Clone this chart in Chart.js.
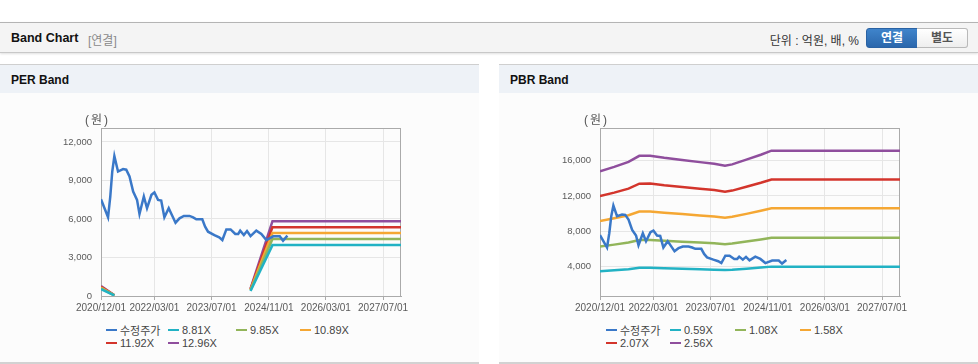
<!DOCTYPE html>
<html>
<head>
<meta charset="utf-8">
<script src="https://cdn.jsdelivr.net/npm/chart.js@4.4.1/dist/chart.umd.min.js"></script>
<style>
body{margin:0;width:978px;height:364px;overflow:hidden;background:#fff;position:relative;
  font-family:"Liberation Sans","Noto Sans CJK KR",sans-serif;color:#222}
.hdr{position:absolute;left:0;top:22px;width:978px;height:29px;background:#f4f4f4;
  border-top:1px solid #b4b4b4;border-bottom:1px solid #c8c8c8;box-shadow:0 1px 2px rgba(0,0,0,.12)}
.hdr .ttl{position:absolute;left:11px;top:8px;font-size:12.5px;font-weight:bold;color:#111}
.hdr .sub{position:absolute;left:88px;top:8px;font-size:12px;color:#8a8a8a}
.hdr .unit{position:absolute;right:119px;top:8px;font-size:12px;color:#333}
.btn{position:absolute;top:5px;height:18px;line-height:18px;text-align:center;font-size:12px;font-weight:bold}
.b1{left:866px;width:50px;background:linear-gradient(#3f84cb,#2b67ac);color:#fff;border:1px solid #2a62a3;border-radius:3px 0 0 3px}
.b2{left:917px;width:50px;background:linear-gradient(#fff,#eee);color:#555;border:1px solid #b9b9b9;border-left:none;border-radius:0 3px 3px 0}
.panel{position:absolute;top:64px;width:479px;height:297px;background:#fcfcfc;border-top:1px solid #cfcfcf;border-bottom:2px solid #d2d2d2}
.panel .ph{height:28px;background:#eef2f7;position:relative}
.panel .ph span{position:absolute;left:11px;top:8px;font-size:12px;font-weight:bold;color:#111}
canvas{position:absolute;top:93px}
.unitlbl{position:absolute;top:110px;font-size:12px;color:#555;letter-spacing:2px}
.legend{position:absolute;top:323px;display:grid;font-size:11px;color:#444;row-gap:0}
.legend div{display:flex;align-items:center;height:13.5px;white-space:nowrap}
.legend i{display:inline-block;width:11px;height:2px;margin-right:3px}
</style>
</head>
<body>
<div class="hdr">
  <span class="ttl">Band Chart</span><span class="sub">[연결]</span>
  <span class="unit">단위 : 억원, 배, %</span>
  <span class="btn b1">연결</span><span class="btn b2">별도</span>
</div>
<div class="panel" style="left:0"><div class="ph"><span>PER Band</span></div></div>
<div class="panel" style="left:499px"><div class="ph"><span>PBR Band</span></div></div>

<canvas id="per" width="479" height="227" style="left:0"></canvas>
<canvas id="pbr" width="479" height="227" style="left:499px"></canvas>
<span class="unitlbl" style="left:85px">(원)</span>
<span class="unitlbl" style="left:584px">(원)</span>
<div class="legend" id="perLegend" style="left:106px;grid-template-columns:62px 68px 64px auto"></div>
<div class="legend" id="pbrLegend" style="left:606px;grid-template-columns:64px 65px 65px auto"></div>

<script>
// x axis
const xStart = '2020/12/01';
const xEnd = '2027/12/01';
const xTickLabels = ['2020/12/01', '2022/03/01', '2023/07/01', '2024/11/01', '2026/03/01', '2027/07/01'];

// 수정주가
const priceDates = ['2020/12/01','2021/01/30','2021/02/18','2021/03/07','2021/03/25','2021/04/25','2021/06/07','2021/07/04',
  '2021/08/01','2021/09/01','2021/10/04','2021/10/25','2021/12/01','2021/12/28','2022/02/04','2022/03/01','2022/04/01',
  '2022/04/28','2022/05/25','2022/07/01','2022/07/28','2022/08/28','2022/10/01','2022/11/07','2022/12/25','2023/01/25',
  '2023/02/21','2023/04/13','2023/05/07','2023/06/01','2023/07/25','2023/09/04','2023/10/01','2023/11/04','2023/12/10',
  '2024/01/19','2024/02/13','2024/03/01','2024/04/01','2024/04/28','2024/05/28','2024/07/16','2024/08/28','2024/10/10',
  '2024/12/07','2025/02/01','2025/03/01','2025/04/07'];
const price = [7540, 6130, 7750, 9700, 10900, 9700, 9890, 9840,
  9310, 8140, 7490, 6390, 7750, 6840, 7880, 8060, 7490,
  7440, 6130, 6840, 6310, 5710, 6050, 6240, 6240, 6130,
  5980, 5980, 5400, 5010, 4750, 4570, 4360, 5190, 5190,
  4830, 4830, 5090, 4750, 5060, 4670, 5090, 4830, 4360,
  4650, 4650, 4300, 4700];

// PER band
const perDates = ['2020/12/01', '2021/03/25', '2021/04/20', '2024/05/28', '2024/12/01', '2027/12/01'];
const per881 = [529, 44, null, 396, 3965, 3965];
const per985 = [591, 49, null, 443, 4433, 4433];
const per1089 = [653, 54, null, 490, 4901, 4901];
const per1192 = [715, 60, null, 536, 5364, 5364];
const per1296 = [778, 65, null, 583, 5832, 5832];
const perTicks = [0, 3000, 6000, 9000, 12000];

// PBR band
const pbrDates = ['2020/12/01','2021/04/01','2021/08/01','2021/11/01','2022/02/01','2022/06/01','2022/11/01','2023/04/01',
  '2023/08/01','2023/11/01','2024/01/01','2024/05/01','2024/09/01','2024/12/01','2027/12/01'];
const pbr059 = [3413, 3528, 3658, 3817, 3820, 3764, 3708, 3652, 3611, 3558, 3593, 3717, 3847, 3953, 3953];
const pbr108 = [6247, 6458, 6696, 6988, 6993, 6890, 6788, 6685, 6610, 6512, 6577, 6804, 7042, 7236, 7236];
const pbr158 = [9139, 9448, 9796, 10223, 10231, 10080, 9930, 9780, 9670, 9527, 9622, 9954, 10302, 10586, 10586];
const pbr207 = [11973, 12379, 12834, 13393, 13403, 13207, 13010, 12813, 12668, 12482, 12606, 13041, 13496, 13869, 13869];
const pbr256 = [14807, 15309, 15872, 16563, 16576, 16333, 16090, 15846, 15667, 15437, 15590, 16128, 16691, 17152, 17152];
const pbrTicks = [4000, 8000, 12000, 16000];

const colors = ['#3a78c8', '#22b2c4', '#92b55a', '#f5a733', '#d3352c', '#8f4e9d'];

function t(d) {
  const p = d.split('/');
  return Date.UTC(+p[0], +p[1] - 1, +p[2]);
}
function pts(dates, vals) {
  return dates.map((d, i) => ({ x: t(d), y: vals[i] }));
}
function ds(label, data, i) {
  return { label, data, borderColor: colors[i], backgroundColor: colors[i], borderWidth: 2.5,
    pointRadius: 0, tension: 0, fill: false, spanGaps: false };
}

const frame = {
  id: 'frame',
  beforeDatasetsDraw(c) {
    const a = c.chartArea, x = c.ctx;
    x.save();
    x.strokeStyle = '#aaa';
    x.lineWidth = 1;
    x.strokeRect(Math.round(a.left) + 0.5, Math.round(a.top) + 0.5, Math.round(a.width) - 1, Math.round(a.height));
    x.restore();
  }
};

function makeChart(id, datasets, yMin, yMax, yTicks) {
  return new Chart(document.getElementById(id), {
    type: 'line',
    data: { datasets },
    plugins: [frame],
    options: {
      responsive: false,
      animation: false,
      layout: { padding: { top: 35, right: 78, left: 0, bottom: 0 } },
      plugins: { legend: { display: false }, tooltip: { enabled: false } },
      font: { family: "'Liberation Sans', Arial, sans-serif" },
      scales: {
        x: {
          type: 'linear', min: t(xStart), max: t(xEnd),
          afterBuildTicks: s => { s.ticks = xTickLabels.map(d => ({ value: t(d) })); },
          afterFit: s => { s.height = 24; },
          ticks: { callback: (v, i) => xTickLabels[i], color: '#5a5a5a', font: { size: 10 }, padding: 2,
            maxRotation: 0, autoSkip: false },
          grid: { color: '#e6e6e6', tickColor: '#aaa', tickLength: 4 },
          border: { color: '#aaa' }
        },
        y: {
          min: yMin, max: yMax,
          afterBuildTicks: s => { s.ticks = yTicks.map(v => ({ value: v })); },
          afterFit: s => { s.width = 101; },
          ticks: { callback: v => v.toLocaleString('en-US'), color: '#5a5a5a', font: { size: 9.5 }, padding: 9 },
          grid: { color: '#e6e6e6', drawTicks: false },
          border: { color: '#aaa' }
        }
      }
    }
  });
}

const perChart = makeChart('per', [
  ds('수정주가', pts(priceDates, price), 0),
  ds('8.81X', pts(perDates, per881), 1),
  ds('9.85X', pts(perDates, per985), 2),
  ds('10.89X', pts(perDates, per1089), 3),
  ds('11.92X', pts(perDates, per1192), 4),
  ds('12.96X', pts(perDates, per1296), 5)
], 0, 13090, perTicks);

const pbrChart = makeChart('pbr', [
  ds('수정주가', pts(priceDates, price), 0),
  ds('0.59X', pts(pbrDates, pbr059), 1),
  ds('1.08X', pts(pbrDates, pbr108), 2),
  ds('1.58X', pts(pbrDates, pbr158), 3),
  ds('2.07X', pts(pbrDates, pbr207), 4),
  ds('2.56X', pts(pbrDates, pbr256), 5)
], 610, 19730, pbrTicks);

function legend(chart, id) {
  const box = document.getElementById(id);
  chart.data.datasets.forEach(d => {
    const item = document.createElement('div');
    const mark = document.createElement('i');
    mark.style.background = d.borderColor;
    item.appendChild(mark);
    item.appendChild(document.createTextNode(d.label));
    box.appendChild(item);
  });
}
legend(perChart, 'perLegend');
legend(pbrChart, 'pbrLegend');
</script>
</body>
</html>
